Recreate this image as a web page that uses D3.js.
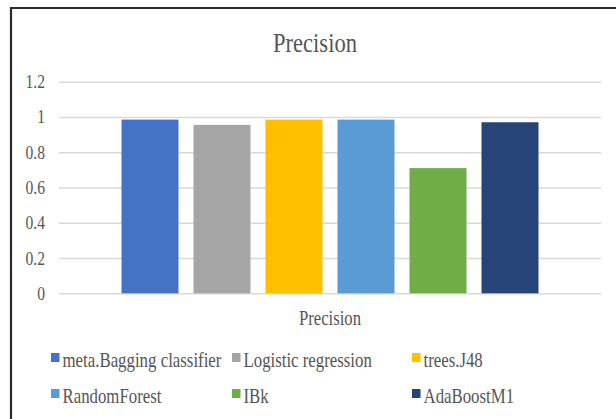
<!DOCTYPE html>
<html>
<head>
<meta charset="utf-8">
<script src="https://cdn.jsdelivr.net/npm/d3@7/dist/d3.min.js"></script>
<style>
  html, body { margin: 0; padding: 0; background: #fff; }
  svg { display: block; }
</style>
</head>
<body>
<svg id="chart" width="616" height="419"></svg>
<script>
// ---- data ----
const categories = ["Precision"];
const seriesNames = ["meta.Bagging classifier", "Logistic regression", "trees.J48", "RandomForest", "IBk", "AdaBoostM1"];
const seriesValues = [0.985, 0.955, 0.985, 0.985, 0.71, 0.97];
const seriesColors = ["#4472C4", "#A5A5A5", "#FFC000", "#5B9BD5", "#70AD47", "#264478"];
const yTicks = [0, 0.2, 0.4, 0.6, 0.8, 1, 1.2];
const titleText = "Precision";

// ---- layout ----
const svg = d3.select("#chart");
const FONT = "'Liberation Serif', 'Times New Roman', Tinos, serif";
const SX = 0.82; // horizontal text compression seen in the reference
const plot = { left: 59, right: 601, top: 81.7, bottom: 293.3 };

function addText(g, x, y, str, size, anchor, targetW) {
  const t = g.append("text")
    .attr("font-family", FONT)
    .attr("fill", "#555555")
    .attr("font-size", size)
    .attr("text-anchor", anchor || "start")
    .text(str);
  let sx = SX;
  if (targetW) {
    const w = t.node().getComputedTextLength();
    if (w > 0) sx = targetW / w;
  }
  t.attr("transform", `translate(${x},${y}) scale(${sx},1)`);
  return t;
}

// frame border (top & left visible)
svg.append("path")
  .attr("d", "M11,425 V8 H625")
  .attr("fill", "none")
  .attr("stroke", "#2b2b2b")
  .attr("stroke-width", 2.2);

// scales
const y = d3.scaleLinear().domain([0, 1.2]).range([plot.bottom, plot.top]);
const x0 = d3.scaleBand().domain(categories).range([plot.left, plot.right]).padding(0);
const x1 = d3.scaleBand().domain(seriesNames).range([0, x0.bandwidth()])
  .paddingInner(15 / 72).paddingOuter(0.868);

// gridlines via axis
const yAxis = d3.axisLeft(y).tickValues(yTicks)
  .tickSize(-(plot.right - plot.left))
  .tickFormat(d => d3.format("~g")(d));
const gy = svg.append("g").attr("transform", `translate(${plot.left},0)`).call(yAxis);
gy.select(".domain").remove();
gy.selectAll(".tick line").attr("stroke", "#d9d9d9").attr("stroke-width", 1.6);
gy.selectAll(".tick text").remove();
// tick labels
yTicks.forEach(v => {
  addText(svg, 45, y(v) + 6.5, d3.format("~g")(v), 19, "end");
});

// bars
const cat = svg.append("g").attr("transform", `translate(${x0(categories[0])},0)`);
cat.selectAll("rect").data(seriesNames.map((n, i) => ({ n, v: seriesValues[i], c: seriesColors[i] })))
  .join("rect")
  .attr("x", d => x1(d.n))
  .attr("y", d => y(d.v))
  .attr("width", x1.bandwidth())
  .attr("height", d => y(0) - y(d.v))
  .attr("fill", d => d.c);

// title
addText(svg, 315, 52, titleText, 28, "middle", 84);

// x category label
addText(svg, x0(categories[0]) + x0.bandwidth() / 2, 324.5, categories[0], 20.5, "middle", 62);

// legend
const legCols = [51, 232, 412];
const legRows = [353, 389];
seriesNames.forEach((n, i) => {
  const cx = legCols[i % 3], ry = legRows[Math.floor(i / 3)];
  svg.append("rect").attr("x", cx).attr("y", ry).attr("width", 8.5).attr("height", 9)
    .attr("fill", seriesColors[i]);
  addText(svg, cx + 11.5, ry + 13.5, n, 20.5, "start", i === 0 ? 159 : null);
});
</script>
</body>
</html>
